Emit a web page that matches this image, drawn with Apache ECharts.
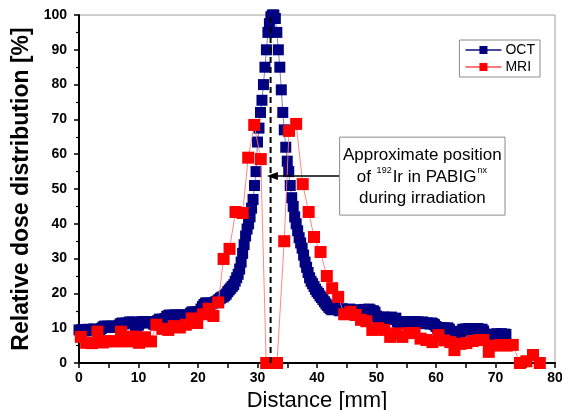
<!DOCTYPE html>
<html><head><meta charset="utf-8">
<script src="https://cdn.jsdelivr.net/npm/echarts@6/dist/echarts.min.js"></script>
<style>html,body{margin:0;padding:0;background:#fff}#c{width:562px;height:410px}</style>
</head><body><div id="c"></div><script>
// ---- data ----
const xTicks = [0, 10, 20, 30, 40, 50, 60, 70, 80];
const yTicks = [0, 10, 20, 30, 40, 50, 60, 70, 80, 90, 100];
const octStart = 0, octStep = 0.25;   // OCT sample grid (mm)
const octValues = [
 9.5,9.3,9.6,9.4, 9.2,9.5,9.7,9.4, 9.3,9.6,9.8,9.5, 9.4,9.6,9.5,9.9,
 10.3,10.6,10.4,10.6, 10.5,10.2,10.6,10.4, 10.6,10.3,10.5,10.9, 11.3,11.5,11.2,11.4,
 11.5,11.3,11.8,11.6, 11.8,11.4,10.8,10.6, 10.9,11.5,11.8,11.9, 11.7,11.9,11.5,11.8,
 11.6,11.9,11.2,11.0, 11.5,12.2,12.6,12.4, 12.6,12.3,12.8,13.4, 13.6,13.8,13.5,13.7,
 13.7, 13.8,13.4,13.6,13.8, 13.5,13.8,13.6,13.8, 13.7,13.9,14.3,14.7, 14.5,14.7,14.4,14.6,
 14.7,15.5,16.2,16.8, 17.2,17.3,17.0,16.8, 17.0,17.2,17.4,17.6, 17.8,18.2,18.6,18.9,
 19.0,19.4,19.8,20.5, 21.0,21.5,22.0,22.5, 23.5,24.5,25.5,27.0, 29.0,31.5,34.0,36.5,
 38.5,40.0,42.0,44.5, 47.0,51.0,55.0,63.5, 67.5,72.0,75.5,80.0, 85.0,90.0,95.0,97.5,
 99.5,100,100,99.0, 95.0,90.0,85.0,78.5, 72.0,67.0,62.0,58.0, 55.0,51.0,47.5,45.0,
 42.0,40.0,38.0,36.0, 34.5,33.0,31.0,29.0, 27.5,26.0,24.5,23.5, 22.8,22.0,21.2,20.5,
 20.0,19.3,18.8,18.2, 17.6,17.0,16.5,16.0, 15.6,15.3,15.8,16.2, 15.8,15.4,15.0,15.3,
 15.6,15.2,14.9,15.3, 15.1, 15.5,15.2,14.8,15.0, 15.3,15.0,14.7,15.1, 14.8,15.2,15.4,15.0,
 15.3,15.5,15.2,14.9, 15.0,14.6,13.5,13.0, 13.2,12.8,13.0,13.2, 12.9,13.1,12.7,13.0,
 13.2,12.8,12.5,12.9, 11.8,11.6,11.9,11.5, 11.7,11.9,11.4,11.8, 11.6,11.9,11.5,11.7,
 11.9,11.6,11.8,11.4, 11.6,11.8,11.5,11.3, 11.5,11.4,11.2,11.5, 11.3,11.0,10.5,10.1,
 10.0,10.2,9.9,10.1, 10.0,9.8,10.1,9.7, 9.0,8.8,9.1,8.9, 9.0,8.7,8.9,9.1,
 9.7, 9.5,9.8,9.6,9.9, 9.7,9.8,9.5,9.8, 9.6,9.9,9.7,9.5, 9.7,9.2,8.0,7.8,
 8.0,7.9,8.1,7.8, 8.3,8.2,8.4,8.1, 8.3,8.4,8.2,8.3, 8.2
];
const mriDistance = [0.3,1.2,2.2,3.1,4.0,5.0,6.05,7.06,8.07,9.08,10.08,11.09,12.1,13.0,14.0,15.0,15.93,16.94,17.95,18.96,
 19.87,20.87,21.78,22.59,23.4,24.3,25.3,26.3,27.5,28.44,29.45,30.55,31.46,32.37,33.28,34.49,35.3,36.5,37.6,38.6,
 39.5,40.6,41.65,42.55,43.56,44.57,45.6,46.5,47.4,48.3,49.3,50.3,51.3,52.3,53.3,54.35,55.35,56.4,57.4,58.4,
 59.4,60.4,61.4,62.4,63.1,64.1,65.1,66.15,67.16,67.97,68.87,69.88,70.9,71.9,72.9,74.1,75.2,76.3,77.45];
const mriValues = [7.5,5.8,5.7,9.0,5.9,6.3,6.2,9.0,6.2,7.6,5.8,7.4,6.2,11.0,9.8,9.5,10.6,10.2,11.0,12.8,
 11.5,14.0,15.6,13.5,17.4,29.9,32.8,43.4,43.1,59.0,68.4,58.6,0,0,0,35.0,66.7,68.7,51.4,43.4,
 36.2,31.9,25.0,21.5,19.0,14.0,14.7,13.8,12.4,12.0,9.5,10.0,9.5,7.5,8.5,7.5,8.6,8.6,7.0,6.6,
 6.0,8.0,6.5,6.0,3.7,5.5,5.7,6.3,6.6,6.6,3.2,5.0,5.2,5.0,5.2,0,0.5,2.3,0];
const sourcePosition = 32.2;        // mm, dashed marker
const arrowLevel = 53.7;            // % level of annotation arrow
const arrowTip = 32.5;              // mm
const boxCorner1 = [43.8, 64.9];    // annotation box (data coords)
const boxCorner2 = [71.6, 42.5];
const annotationText = 'Approximate position\n{n|of }{s|192}{n|Ir in PABIG}{s|nx}\nduring irradiation';

// ---- build ----
const octData = octValues.map((v, i) => [octStart + i * octStep, v]);
const mriData = mriDistance.map((d, i) => [d, mriValues[i]]);
const FONT = 'Arial, "Liberation Sans", sans-serif';

const chart = echarts.init(document.getElementById('c'), null, {renderer: 'canvas'});
const option = {
  animation: false,
  backgroundColor: '#fff',
  grid: {left: 79, right: 7, top: 15, bottom: 47, containLabel: false, outerBoundsMode: 'none',
         show: true, borderColor: '#a0a0a0', borderWidth: 1, backgroundColor: 'transparent'},
  legend: {
    orient: 'vertical', right: 22, top: 40,
    backgroundColor: '#fff', borderColor: '#8c8c8c', borderWidth: 1,
    padding: [3, 5, 3, 5], itemGap: 3, itemWidth: 36, itemHeight: 10,
    textStyle: {fontFamily: FONT, fontSize: 14, color: '#000', padding: [0, 0, 0, -1]},
    data: ['OCT', 'MRI']
  },
  xAxis: {
    type: 'value', min: xTicks[0], max: xTicks[xTicks.length - 1], interval: xTicks[1] - xTicks[0],
    name: 'Distance [mm]', nameLocation: 'middle', nameGap: 24,
    nameTextStyle: {fontFamily: FONT, fontSize: 22, color: '#000'},
    axisLine: {lineStyle: {color: '#000', width: 2}},
    axisTick: {show: true, inside: false, length: 5, lineStyle: {color: '#000', width: 1.5}},
    minorTick: {show: true, splitNumber: 2, length: 5, lineStyle: {color: '#000', width: 1.5}},
    axisLabel: {fontFamily: FONT, fontSize: 14, fontWeight: 'bold', color: '#000', margin: 8,
                formatter: v => xTicks.includes(v) ? String(v) : ''},
    splitLine: {show: false}
  },
  yAxis: {
    type: 'value', min: yTicks[0], max: yTicks[yTicks.length - 1], interval: yTicks[1] - yTicks[0],
    name: 'Relative dose distribution [%]', nameLocation: 'middle', nameGap: 43,
    nameTextStyle: {fontFamily: FONT, fontSize: 23, fontWeight: 'bold', color: '#000'},
    axisLine: {show: true, lineStyle: {color: '#000', width: 2}},
    axisTick: {show: true, inside: false, length: 5, lineStyle: {color: '#000', width: 1.5}},
    minorTick: {show: true, splitNumber: 2, length: 3, lineStyle: {color: '#000', width: 1.2}},
    axisLabel: {fontFamily: FONT, fontSize: 14, fontWeight: 'bold', color: '#000', margin: 12,
                formatter: v => yTicks.includes(v) ? String(v) : ''},
    splitLine: {show: false}
  },
  series: [
    {
      name: 'OCT', type: 'line', data: octData, z: 2,
      symbol: 'rect', symbolSize: 11, showAllSymbol: true,
      itemStyle: {color: '#000080'},
      lineStyle: {color: '#4a4aa0', width: 0.7}
    },
    {
      name: 'MRI', type: 'line', data: mriData, z: 3,
      symbol: 'rect', symbolSize: 12, showAllSymbol: true,
      itemStyle: {color: '#ff0000'},
      lineStyle: {color: '#ff7a7a', width: 0.9}
    },
    {
      name: 'marker', type: 'line', z: 5, silent: true,
      data: [[sourcePosition, yTicks[0]], [sourcePosition, yTicks[yTicks.length - 1]]],
      symbol: 'none', lineStyle: {color: '#000', width: 2, type: [6, 4]},
      markLine: {
        silent: true, symbol: ['none', 'triangle'], symbolSize: [8, 11],
        label: {show: false},
        lineStyle: {color: '#000', width: 1.5, type: 'solid'},
        data: [[{coord: [boxCorner1[0], arrowLevel]}, {coord: [arrowTip, arrowLevel]}]]
      }
    }
  ]
};
chart.setOption(option);

const p1 = chart.convertToPixel({gridIndex: 0}, boxCorner1);
const p2 = chart.convertToPixel({gridIndex: 0}, boxCorner2);
chart.setOption({
  graphic: [
    {type: 'rect', z: 20, shape: {x: p1[0], y: p1[1], width: p2[0] - p1[0], height: p2[1] - p1[1]},
     style: {fill: '#fff', stroke: '#8c8c8c', lineWidth: 1}},
    {type: 'text', z: 21, x: (p1[0] + p2[0]) / 2, y: (p1[1] + p2[1]) / 2 + 1,
     style: {text: annotationText, fill: '#000', fontFamily: FONT, fontSize: 17, lineHeight: 21.5,
             align: 'center', verticalAlign: 'middle',
             rich: {n: {fontFamily: FONT, fontSize: 17, lineHeight: 21.5},
                    s: {fontFamily: FONT, fontSize: 9, verticalAlign: 'top', lineHeight: 21.5, padding: [0, 1, 0, 1]}}}}
  ]
});
</script></body></html>
